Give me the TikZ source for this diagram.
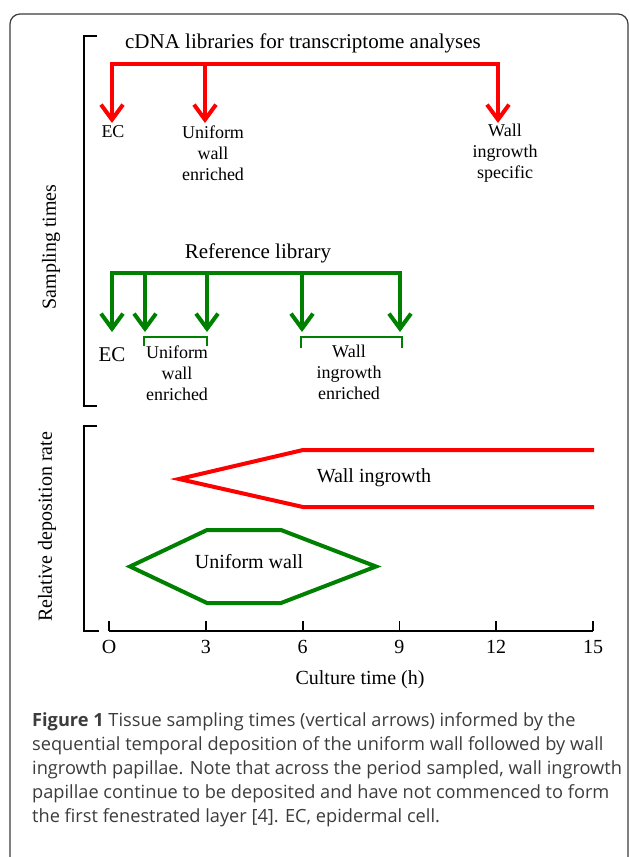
\documentclass[tikz,border=0pt]{standalone}
\usepackage{fontspec}
\setmainfont{Liberation Serif}
\newfontfamily\capfont{Open Sans}
\usetikzlibrary{arrows.meta}
\definecolor{dgreen}{RGB}{0,128,0}
\definecolor{captext}{RGB}{60,60,60}
\definecolor{framecol}{RGB}{60,60,60}
\begin{document}
\begin{tikzpicture}[x=1pt,y=-1pt,
  lbl/.style={inner sep=0pt, font=\fontsize{20}{24}\selectfont},
  biglbl/.style={inner sep=0pt, font=\fontsize{21}{24}\selectfont},
  small/.style={inner sep=0pt, align=center, font=\fontsize{18}{21}\selectfont},
  redline/.style={draw=red, line width=4pt},
  grnline/.style={draw=dgreen, line width=4pt},
  redarrow/.style={redline, -{Straight Barb[length=15pt,width=22pt]}},
  grnarrow/.style={grnline, -{Straight Barb[length=15pt,width=22pt]}},
  grnbracket/.style={draw=dgreen, line width=2.5pt},
  blackline/.style={draw=black, line width=1.8pt},
  captxt/.style={anchor=west, inner sep=0pt, text=captext, font=\capfont\fontsize{18.2}{22}\selectfont}
]
\useasboundingbox (0,0) rectangle (629,857);
% outer frame
\draw[framecol, line width=1.2pt, rounded corners=10pt] (10,900) -- (10,14) -- (628,14) -- (628,900);

% brackets
\draw[blackline] (97,36) -- (84,36) -- (84,406) -- (97,406);
\draw[blackline] (97,426) -- (84,426) -- (84,631) -- (99,631);

% rotated axis labels
\node[lbl, rotate=90] (st) at (51,247) {Sampling times};
\node[lbl, rotate=90] (rdr) at (47,527) {Relative deposition rate};

% ---- cDNA libraries (red)
\node[biglbl] (title) at (303,43) {cDNA libraries for transcriptome analyses};
\coordinate (rL) at (110,64);
\coordinate (rR) at (500,64);
\draw[redline] (rL) -- (rR);
\coordinate (r1) at (112,62); \coordinate (t1) at (112,123);
\coordinate (r2) at (205,62); \coordinate (t2) at (205,123);
\coordinate (r3) at (498,62); \coordinate (t3) at (498,123);
\draw[redarrow] (r1) -- (t1);
\draw[redarrow] (r2) -- (t2);
\draw[redarrow] (r3) -- (t3);
\node[small] (ec1) at (113,132) {EC};
\node[small] (uw1) at (213,153) {Uniform\\wall\\enriched};
\node[small] (wi1) at (505,153) {Wall\\ingrowth\\specific};

% ---- Reference library (green)
\node[biglbl] (reflib) at (258,253) {Reference library};
\coordinate (gL) at (110,273);
\coordinate (gR) at (402,273);
\draw[grnline] (gL) -- (gR);
\foreach \i/\x in {1/112,2/145,3/207,4/302,5/400}{
  \coordinate (g\i) at (\x,271);
  \coordinate (gt\i) at (\x,332);
  \draw[grnarrow] (g\i) -- (gt\i);
}
\draw[grnbracket] (144,346) -- (144,337) -- (207,337) -- (207,346);
\draw[grnbracket] (301,348) -- (301,337) -- (402,337) -- (402,348);
\node[biglbl] (ec2) at (112,355) {EC};
\node[small] (uw2) at (177,373) {Uniform\\wall\\enriched};
\node[small] (wi2) at (349,372) {Wall\\ingrowth\\enriched};

% ---- deposition rates
\draw[redline, line join=miter] (594,450) -- (303,450) -- (179,479) -- (303,507) -- (594,507);
\node[lbl] (wig) at (374,478) {Wall ingrowth};
\draw[grnline, line join=miter] (130,566.5) -- (207,530) -- (281,530) -- (376,566.5) -- (281,603) -- (207,603) -- cycle;
\node[lbl] (uwall) at (249,562) {Uniform wall};

% ---- time axis
\coordinate (ax0) at (109,631);
\coordinate (ax15) at (593,631);
\draw[blackline] (ax0) -- (ax15);
\foreach \t/\lab in {0/O,3/3,6/6,9/9,12/12,15/15}{
  \draw[blackline] (109+32.27*\t,631) -- (109+32.27*\t,621);
  \node[lbl] (tick\t) at (109+32.27*\t,647) {\lab};
}
\node[lbl] (xlab) at (360,680) {Culture time (h)};

% ---- caption
\node[captxt] (c1) at (32,722) {\textbf{Figure 1} Tissue sampling times (vertical arrows) informed by the};
\node[captxt] (c2) at (32,746) {sequential temporal deposition of the uniform wall followed by wall};
\node[captxt] (c3) at (32,770) {ingrowth papillae. Note that across the period sampled, wall ingrowth};
\node[captxt] (c4) at (32,794) {papillae continue to be deposited and have not commenced to form};
\node[captxt] (c5) at (32,818) {the first fenestrated layer [4]. EC, epidermal cell.};
\end{tikzpicture}
\end{document}
